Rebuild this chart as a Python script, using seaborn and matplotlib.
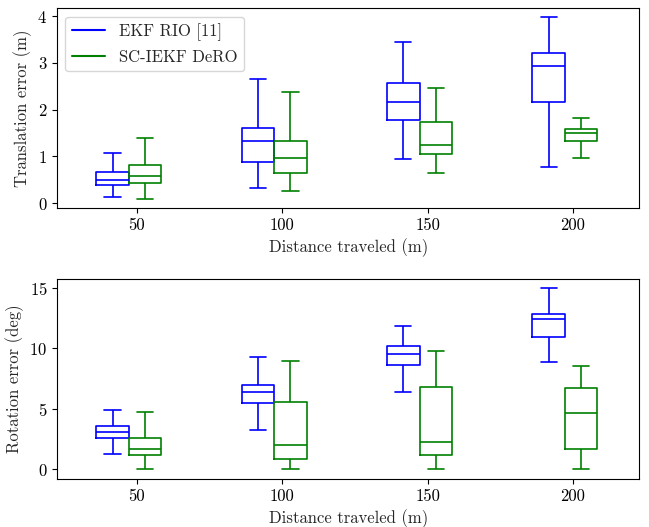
"""
Box plots of translation / rotation error vs distance traveled,
EKF RIO baseline against SC-IEKF DeRO.
"""

import numpy as np
import pandas as pd
import matplotlib.pyplot as plt
import seaborn as sns
from matplotlib.lines import Line2D

DISTANCES = [50, 100, 150, 200]
METHODS = ["EKF RIO [11]", "SC-IEKF DeRO"]
COLORS = ["blue", "green"]

# five-number summaries per distance: [min, q1, median, q3, max]
TRANS_EKF = [
    [0.14, 0.38, 0.49, 0.66, 1.07],
    [0.33, 0.88, 1.32, 1.60, 2.65],
    [0.95, 1.78, 2.16, 2.56, 3.44],
    [0.77, 2.16, 2.93, 3.22, 3.97],
]
TRANS_DERO = [
    [0.10, 0.44, 0.59, 0.81, 1.39],
    [0.27, 0.64, 0.96, 1.33, 2.37],
    [0.64, 1.05, 1.24, 1.74, 2.46],
    [0.96, 1.33, 1.50, 1.58, 1.83],
]
ROT_EKF = [
    [1.25, 2.61, 3.10, 3.58, 4.88],
    [3.24, 5.49, 6.40, 7.01, 9.26],
    [6.43, 8.62, 9.56, 10.17, 11.84],
    [8.87, 10.92, 12.48, 12.86, 14.97],
]
ROT_DERO = [
    [0.00, 1.16, 1.66, 2.58, 4.71],
    [0.00, 0.89, 2.00, 5.57, 8.98],
    [0.03, 1.16, 2.27, 6.82, 9.76],
    [0.03, 1.72, 4.63, 6.71, 8.59],
]


def to_long(ekf, dero):
    rows = []
    for method, summaries in zip(METHODS, [ekf, dero]):
        for dist, vals in zip(DISTANCES, summaries):
            for v in vals:
                rows.append({"distance": dist, "method": method, "error": v})
    return pd.DataFrame(rows)


sns.set_style("ticks")
plt.rcParams["font.family"] = "serif"
plt.rcParams["font.serif"] = ["cmr10", "DejaVu Serif"]
plt.rcParams["mathtext.fontset"] = "cm"
plt.rcParams["axes.formatter.use_mathtext"] = True
plt.rcParams["font.size"] = 12
plt.rcParams["axes.edgecolor"] = "black"
plt.rcParams["xtick.color"] = "black"
plt.rcParams["ytick.color"] = "black"

fig, axes = plt.subplots(2, 1, figsize=(6.49, 5.27), dpi=100)
fig.subplots_adjust(left=0.088, right=0.985, top=0.984, bottom=0.092, hspace=0.36)

panels = [
    (to_long(TRANS_EKF, TRANS_DERO), "Translation error (m)"),
    (to_long(ROT_EKF, ROT_DERO), "Rotation error (deg)"),
]

for ax, (df, ylabel) in zip(axes, panels):
    sns.boxplot(
        data=df, x="distance", y="error", hue="method",
        hue_order=METHODS, palette=COLORS, fill=False,
        whis=np.inf, width=0.447, gap=0, linewidth=1.2,
        legend=False, ax=ax,
    )
    ax.set_xticks(np.arange(len(DISTANCES)) + 0.055, labels=DISTANCES)
    ax.set_xlim(-0.493, 3.511)
    ax.set_xlabel("Distance traveled (m)", fontsize=12)
    ax.set_ylabel(ylabel, fontsize=12)
    ax.tick_params(labelsize=12)
    for side in ["top", "right"]:
        ax.spines[side].set_visible(True)

handles = [Line2D([], [], color=c, lw=1.5) for c in COLORS]
axes[0].legend(handles, METHODS, loc="upper left", fontsize=12,
               fancybox=True, framealpha=0.8, edgecolor="0.8")

plt.savefig("out.png", dpi=100)
plt.close()
